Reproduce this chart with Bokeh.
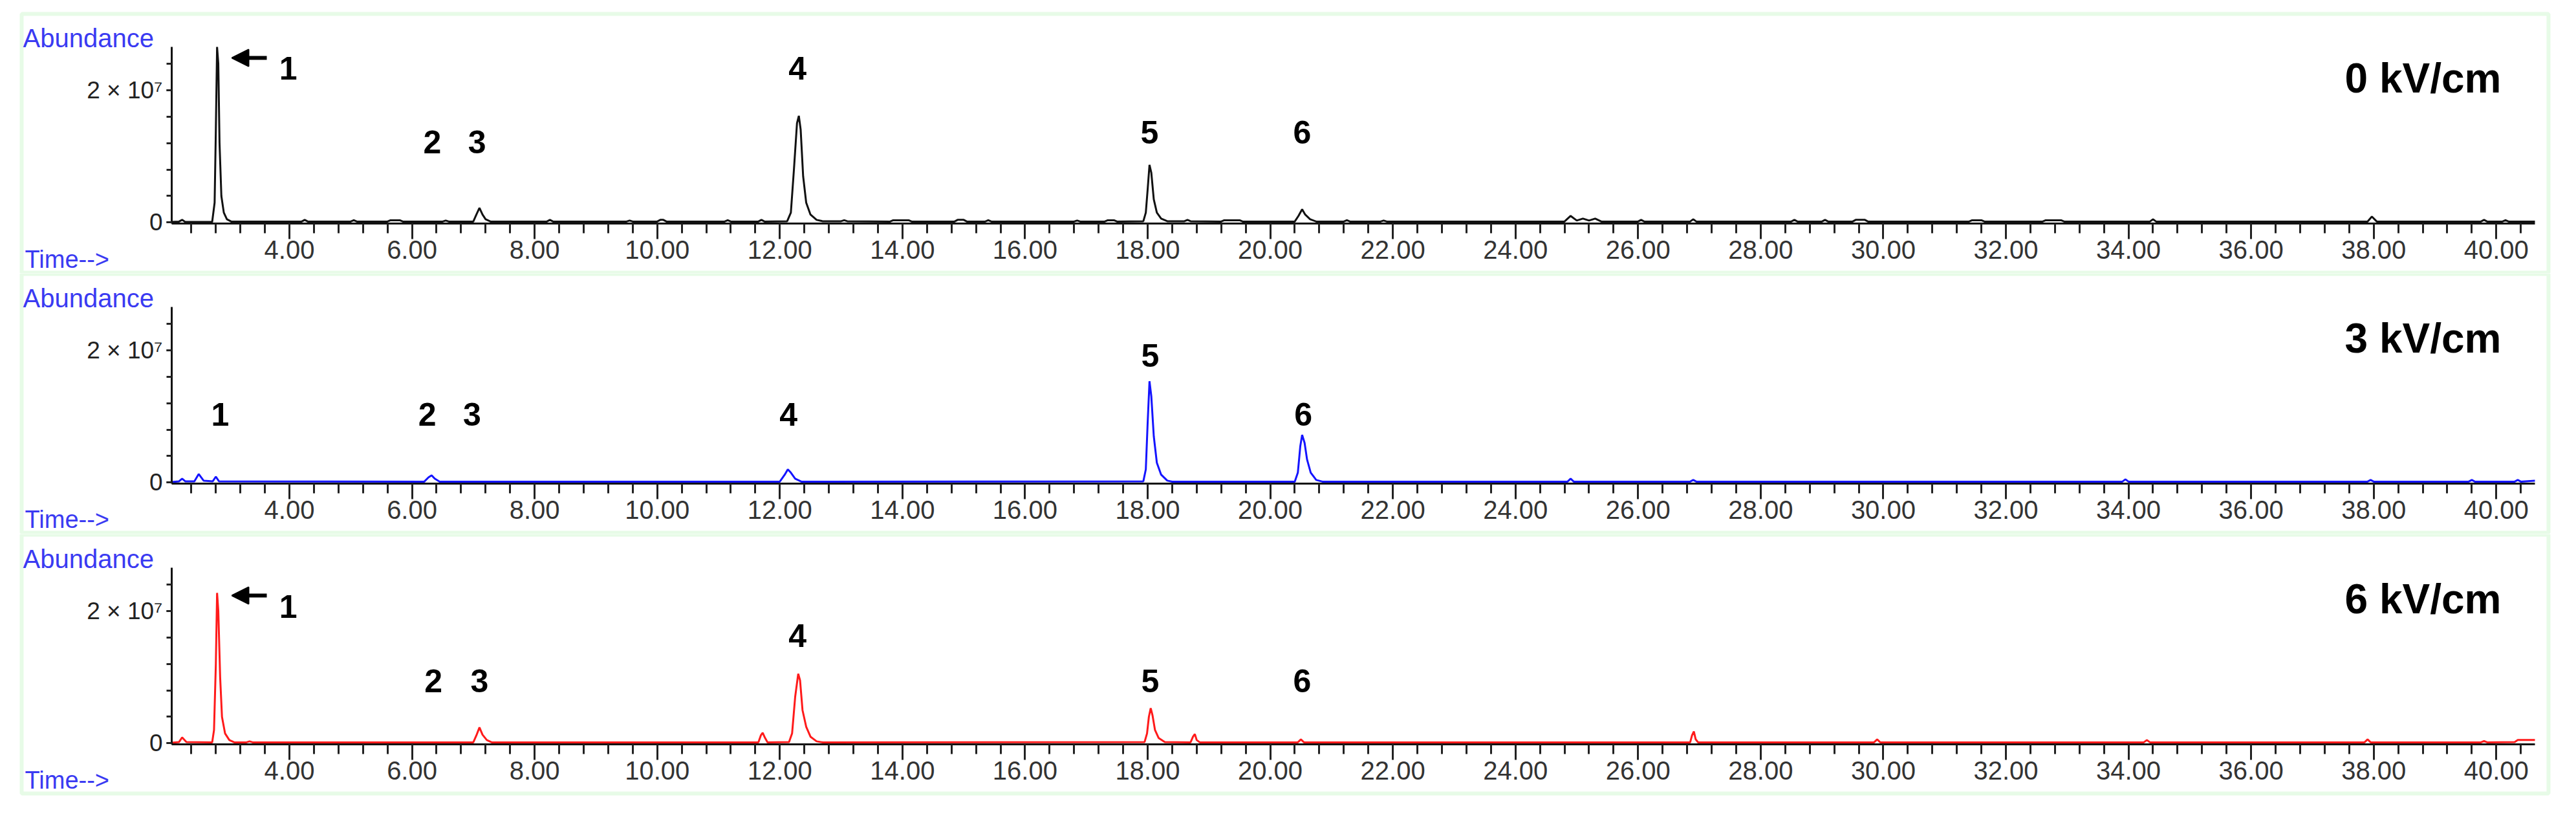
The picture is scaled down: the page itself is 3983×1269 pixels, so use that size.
from bokeh.plotting import figure
from bokeh.layouts import column
from bokeh.models import Range1d, FixedTicker, Label, Arrow, NormalHead, BoxAnnotation
from bokeh.embed import file_html
from bokeh.resources import INLINE

# ---------------- data ----------------
tick_values = [4, 6, 8, 10, 12, 14, 16, 18, 20, 22, 24, 26, 28, 30, 32, 34, 36, 38, 40]
tick_labels = ["4.00", "6.00", "8.00", "10.00", "12.00", "14.00", "16.00", "18.00", "20.00",
               "22.00", "24.00", "26.00", "28.00", "30.00", "32.00", "34.00", "36.00", "38.00", "40.00"]
panel_titles = ["0 kV/cm", "3 kV/cm", "6 kV/cm"]
peak_ids = ["1", "2", "3", "4", "5", "6"]

# retention time (min) / abundance (x 1e6)
t_0kv = [2.08, 2.2, 2.25, 2.3, 2.74, 2.78, 2.80, 2.82, 2.84, 2.86, 2.89, 2.93, 2.98, 3.05,
         4.2, 4.25, 4.3, 5.0, 5.05, 5.1, 5.6, 5.65, 5.8, 5.85, 6.5, 6.55, 6.6,
         7.0, 7.05, 7.1, 7.15, 7.2, 7.28,
         8.2, 8.25, 8.3, 9.5, 9.55, 9.6, 10.0, 10.05, 10.1, 10.15, 11.1, 11.15, 11.2, 11.65, 11.7, 11.75,
         12.12, 12.18, 12.23, 12.28, 12.31, 12.34, 12.38, 12.43, 12.5, 12.6, 12.7,
         13.0, 13.05, 13.1, 13.8, 13.85, 14.1, 14.15, 14.85, 14.9, 15.0, 15.05, 15.35, 15.4, 15.45,
         16.8, 16.85, 16.9, 17.3, 17.35, 17.45, 17.5,
         17.93, 17.97, 18.0, 18.03, 18.06, 18.1, 18.15, 18.22, 18.32,
         18.6, 18.65, 18.7, 19.2, 19.25, 19.5, 19.55,
         20.4, 20.46, 20.52, 20.57, 20.65, 20.75,
         21.2, 21.25, 21.3, 21.8, 21.85, 21.9,
         24.8, 24.9, 25.0, 25.1, 25.2, 25.3, 25.4, 26.0, 26.05, 26.1, 26.85, 26.9, 26.95,
         28.5, 28.55, 28.6, 29.0, 29.05, 29.1, 29.5, 29.55, 29.7, 29.75,
         31.4, 31.45, 31.6, 31.65, 32.6, 32.65, 32.9, 32.95,
         34.35, 34.4, 34.45, 37.9, 37.97, 38.05, 39.75, 39.8, 39.85, 40.1, 40.15, 40.2, 40.63]
a_0kv = [0.1, 0.15, 0.4, 0.1, 0.1, 3.0, 14.0, 26.5, 24.0, 12.0, 4.0, 1.5, 0.5, 0.15,
         0.15, 0.4, 0.15, 0.15, 0.35, 0.15, 0.15, 0.35, 0.35, 0.15, 0.15, 0.3, 0.15,
         0.15, 1.2, 2.2, 1.2, 0.5, 0.15,
         0.15, 0.4, 0.15, 0.15, 0.3, 0.15, 0.15, 0.4, 0.4, 0.15, 0.15, 0.35, 0.15, 0.15, 0.4, 0.15,
         0.2, 1.5, 8.0, 15.0, 16.1, 14.0, 7.0, 3.0, 1.2, 0.4, 0.2,
         0.2, 0.35, 0.2, 0.15, 0.35, 0.35, 0.15, 0.15, 0.4, 0.4, 0.15, 0.15, 0.35, 0.15,
         0.15, 0.3, 0.15, 0.15, 0.35, 0.35, 0.15,
         0.2, 1.5, 5.0, 8.7, 7.5, 3.5, 1.5, 0.6, 0.2,
         0.2, 0.4, 0.2, 0.15, 0.35, 0.35, 0.15,
         0.15, 1.0, 2.0, 1.2, 0.5, 0.15,
         0.15, 0.35, 0.15, 0.15, 0.3, 0.15,
         0.15, 1.0, 0.3, 0.6, 0.3, 0.6, 0.15, 0.15, 0.4, 0.15, 0.15, 0.5, 0.15,
         0.15, 0.4, 0.15, 0.15, 0.4, 0.15, 0.15, 0.4, 0.4, 0.15,
         0.15, 0.35, 0.35, 0.15, 0.15, 0.35, 0.35, 0.15,
         0.15, 0.5, 0.15, 0.15, 0.9, 0.15, 0.15, 0.4, 0.15, 0.15, 0.35, 0.15, 0.15]

t_3kv = [2.08, 2.2, 2.25, 2.3, 2.45, 2.52, 2.6, 2.75, 2.8, 2.85,
         6.2, 6.27, 6.32, 6.37, 6.45,
         12.0, 12.08, 12.13, 12.18, 12.25, 12.35,
         17.93, 17.97, 18.0, 18.03, 18.06, 18.1, 18.15, 18.22, 18.32, 18.4,
         20.4, 20.45, 20.49, 20.52, 20.56, 20.6, 20.66, 20.75, 20.85,
         24.85, 24.9, 24.95, 26.85, 26.9, 26.95, 33.9, 33.95, 34.0, 37.9, 37.95, 38.0,
         39.55, 39.6, 39.65, 40.3, 40.35, 40.4, 40.63]
a_3kv = [0.1, 0.2, 0.6, 0.2, 0.2, 1.3, 0.3, 0.2, 0.9, 0.2,
         0.15, 0.8, 1.1, 0.6, 0.15,
         0.15, 1.2, 2.0, 1.5, 0.6, 0.15,
         0.2, 2.0, 9.0, 15.3, 13.0, 7.0, 3.0, 1.2, 0.3, 0.15,
         0.15, 1.5, 5.5, 7.2, 6.0, 3.5, 1.5, 0.4, 0.15,
         0.15, 0.6, 0.15, 0.15, 0.4, 0.15, 0.15, 0.5, 0.15, 0.15, 0.4, 0.15,
         0.15, 0.4, 0.15, 0.15, 0.4, 0.15, 0.3]

t_6kv = [2.08, 2.2, 2.25, 2.32, 2.74, 2.77, 2.80, 2.82, 2.84, 2.87, 2.9, 2.95, 3.02, 3.1,
         3.3, 3.35, 3.4,
         7.0, 7.05, 7.1, 7.15, 7.22, 7.3,
         11.65, 11.69, 11.72, 11.76, 11.8,
         12.15, 12.2, 12.25, 12.3, 12.33, 12.37, 12.43, 12.5, 12.6, 12.7,
         17.95, 17.99, 18.02, 18.05, 18.08, 18.12, 18.18, 18.28,
         18.7, 18.74, 18.77, 18.8, 18.85,
         20.45, 20.5, 20.55,
         26.85, 26.88, 26.91, 26.94, 26.98,
         29.85, 29.9, 29.95, 34.25, 34.3, 34.35, 37.85, 37.9, 37.95,
         39.75, 39.8, 39.85, 40.3, 40.35, 40.63]
a_6kv = [0.1, 0.2, 0.9, 0.2, 0.15, 2.0, 12.0, 22.7, 20.0, 10.0, 4.0, 1.5, 0.5, 0.15,
         0.15, 0.3, 0.15,
         0.15, 1.2, 2.4, 1.3, 0.5, 0.15,
         0.15, 1.2, 1.6, 0.8, 0.15,
         0.2, 1.5, 7.0, 10.5, 9.5, 5.0, 2.5, 1.0, 0.3, 0.15,
         0.2, 1.5, 4.0, 5.3, 4.2, 2.0, 0.8, 0.2,
         0.15, 1.0, 1.4, 0.5, 0.15,
         0.15, 0.6, 0.15,
         0.15, 1.2, 1.8, 0.6, 0.15,
         0.15, 0.6, 0.15, 0.15, 0.5, 0.15, 0.15, 0.6, 0.15,
         0.15, 0.35, 0.15, 0.2, 0.5, 0.5]

# label anchor times (min) for peak numbers in each panel
label_t_0kv = [3.98, 6.33, 7.06, 12.29, 18.03, 20.52]
label_t_3kv = [2.87, 6.25, 6.98, 12.14, 18.04, 20.54]
label_t_6kv = [3.98, 6.35, 7.10, 12.29, 18.04, 20.52]

# ---------------- layout / style ----------------
W = 3967
X0, X1 = 2.08, 40.63        # visible time axis
Y0, Y1 = -0.15e6, 26.5e6    # visible abundance axis
AX_L, AX_R = 265, 3919      # axis extent on the canvas (px)
AX_T_REL, AX_B_REL = 52, 325  # axis top / bottom relative to panel top (px)
BOX_H = 402
GREEN = "#aef2ae"
BLUE_TXT = "#3a3af2"
FONT = "Liberation Sans"


def xd(px):
    return X0 + (px - AX_L) * (X1 - X0) / (AX_R - AX_L)


def yd(rel):
    return Y0 + (AX_B_REL - rel) * (Y1 - Y0) / (AX_B_REL - AX_T_REL)


panels = [
    dict(t=t_0kv, a=a_0kv, color="#111111", title=panel_titles[0], lt=label_t_0kv,
         lrel=[85, 199, 199, 85, 184, 184], arrow=69, top=20, height=422),
    dict(t=t_3kv, a=a_3kv, color="#1414ff", title=panel_titles[1], lt=label_t_3kv,
         lrel=[218, 218, 218, 218, 127, 218], arrow=None, top=0, height=403),
    dict(t=t_6kv, a=a_6kv, color="#ff1a1a", title=panel_titles[2], lt=label_t_6kv,
         lrel=[112, 227, 227, 157, 227, 227], arrow=95, top=0, height=417),
]

minor_x = [round(2.4 + 0.4 * i, 2) for i in range(96)]
minor_y = [0, 4e6, 8e6, 12e6, 16e6, 20e6, 24e6]

figs = []
for pn in panels:
    T = pn["top"]
    H = pn["height"]
    p = figure(width=W, height=H, output_backend="svg", toolbar_location=None,
               x_range=Range1d(xd(0), xd(W)), y_range=Range1d(yd(H - T), yd(-T)),
               min_border_left=0, min_border_right=0, min_border_top=0, min_border_bottom=0)
    p.outline_line_color = None
    p.xgrid.visible = False
    p.ygrid.visible = False
    p.background_fill_color = "white"
    p.border_fill_color = "white"

    # x axis (drawn inside the frame at the zero line)
    xa = p.xaxis[0]
    xa.fixed_location = Y0
    xa.bounds = (X0, X1)
    xa.ticker = FixedTicker(ticks=tick_values, minor_ticks=minor_x)
    xa.major_label_overrides = {v: s for v, s in zip(tick_values, tick_labels)}
    xa.axis_line_width = 3
    xa.axis_line_color = "#111111"
    xa.major_tick_line_width = 3
    xa.minor_tick_line_width = 3
    xa.major_tick_line_color = "#222222"
    xa.minor_tick_line_color = "#222222"
    xa.major_tick_in = 0
    xa.major_tick_out = 24
    xa.minor_tick_in = 0
    xa.minor_tick_out = 15
    xa.major_label_standoff = 2
    xa.major_label_text_font = FONT
    xa.major_label_text_font_size = "40px"
    xa.major_label_text_color = "#333333"

    # y axis
    ya = p.yaxis[0]
    ya.fixed_location = X0
    ya.bounds = (Y0, Y1)
    ya.ticker = FixedTicker(ticks=[0, 20000000], minor_ticks=minor_y)
    ya.major_label_overrides = {0: "0", 20000000: "2 × 10⁷"}
    ya.axis_line_width = 3
    ya.axis_line_color = "#111111"
    ya.major_tick_line_width = 3
    ya.minor_tick_line_width = 3
    ya.major_tick_line_color = "#222222"
    ya.minor_tick_line_color = "#222222"
    ya.major_tick_in = 0
    ya.major_tick_out = 8
    ya.minor_tick_in = 0
    ya.minor_tick_out = 8
    ya.major_label_standoff = 6
    ya.major_label_text_font = FONT
    ya.major_label_text_font_size = "37px"
    ya.major_label_text_color = "#222222"

    # trace
    p.line([float(v) for v in pn["t"]], [v * 1e6 for v in pn["a"]],
           line_color=pn["color"], line_width=3)

    # green panel border
    p.add_layout(BoxAnnotation(left=xd(33), right=xd(3940), top=yd(1), bottom=yd(BOX_H - 1),
                               fill_color=None, fill_alpha=0, line_color=GREEN, line_width=6,
                               level="overlay"))

    # corner labels
    p.add_layout(Label(x=xd(35), y=yd(38), text="Abundance", text_font=FONT,
                       text_font_size="40px", text_color=BLUE_TXT, text_align="left",
                       text_baseline="alphabetic"))
    p.add_layout(Label(x=xd(38), y=yd(380), text="Time-->", text_font=FONT,
                       text_font_size="38px", text_color=BLUE_TXT, text_align="left",
                       text_baseline="alphabetic"))
    p.add_layout(Label(x=xd(3867), y=yd(100), text=pn["title"], text_font=FONT,
                       text_font_size="64px", text_font_style="bold", text_color="black",
                       text_align="right", text_baseline="alphabetic"))

    # peak numbers
    for lab, tx, rel in zip(peak_ids, pn["lt"], pn["lrel"]):
        p.add_layout(Label(x=tx, y=yd(rel), text=lab, text_font=FONT,
                           text_font_size="50px", text_font_style="bold", text_color="black",
                           text_align="center", text_baseline="alphabetic"))
    if pn["arrow"] is not None:
        p.add_layout(Arrow(x_start=xd(412), y_start=yd(pn["arrow"]),
                           x_end=xd(358), y_end=yd(pn["arrow"]),
                           line_width=6, line_color="black",
                           end=NormalHead(size=26, fill_color="black", line_color="black",
                                          line_width=2)))
    figs.append(p)

layout = column(*figs, spacing=0)
open("out.html", "w").write(file_html(layout, INLINE))
